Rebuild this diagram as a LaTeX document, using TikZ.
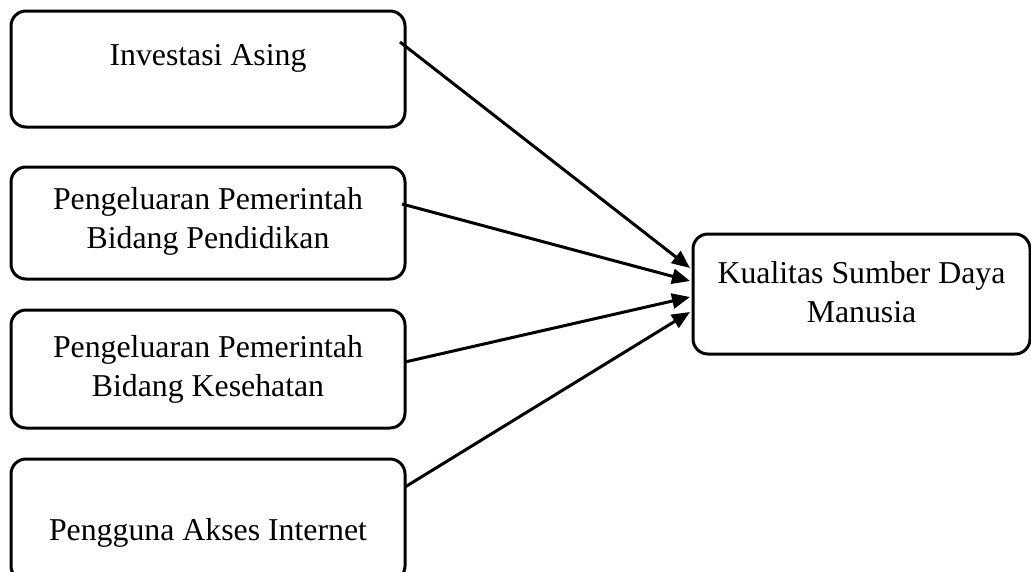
\documentclass[tikz,border=0pt]{standalone}
\usepackage{fontspec}
\setmainfont{Liberation Serif}
\usetikzlibrary{arrows.meta}
\begin{document}
\begin{tikzpicture}[x=1pt,y=-1pt,
  box/.style={draw=black,line width=3pt,rounded corners=15pt,inner sep=0pt},
  lbl/.style={align=center,inner sep=0pt,font=\fontsize{31.8}{39}\selectfont},
  conn/.style={line width=3pt,-{Triangle[length=18pt,width=15pt]}}]
\useasboundingbox (0,0) rectangle (1031,571);
\node[box,minimum width=394pt,minimum height=116pt] (b1) at (208,69) {};
\node[box,minimum width=394pt,minimum height=112pt] (b2) at (208,223) {};
\node[box,minimum width=394pt,minimum height=118pt] (b3) at (208,369) {};
\node[box,minimum width=394pt,minimum height=122pt] (b4) at (208,520) {};
\node[box,minimum width=337pt,minimum height=120pt] (k) at (861.5,294) {};
\node[lbl] (t1) at (208,58) {Investasi Asing};
\node[lbl] (t2) at (208,221) {Pengeluaran Pemerintah\\Bidang Pendidikan};
\node[lbl] (t3) at (208,369) {Pengeluaran Pemerintah\\Bidang Kesehatan};
\node[lbl] (t4) at (208,533) {Pengguna Akses Internet};
\node[lbl] (tk) at (861.5,292) {Kualitas Sumber Daya\\Manusia};
\coordinate (s1) at (400,42);
\coordinate (s2) at (402,204);
\coordinate (s3) at (405,362);
\coordinate (s4) at (405,487);
\coordinate (e1) at (690,268);
\coordinate (e2) at (690,281);
\coordinate (e3) at (690,297);
\coordinate (e4) at (690,312);
\draw[conn] (s1) -- (e1);
\draw[conn] (s2) -- (e2);
\draw[conn] (s3) -- (e3);
\draw[conn] (s4) -- (e4);
\end{tikzpicture}
\end{document}
